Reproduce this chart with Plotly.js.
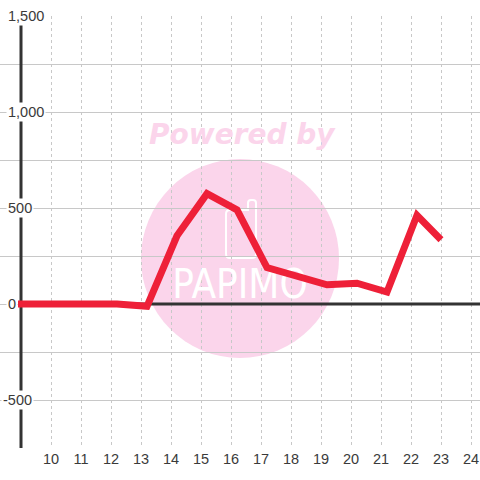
<!DOCTYPE html>
<html>
<head>
<meta charset="utf-8">
<script src="https://cdn.plot.ly/plotly-3.0.1.min.js"></script>
<style>html,body{margin:0;padding:0;background:#fff;}#chart{width:480px;height:480px;}</style>
</head>
<body>
<div id="chart"></div>
<script>
// ---- data ----
const hours  = [8.9, 9.2, 10.2, 11.2, 12.2, 13.2, 14.2, 15.2, 16.2, 17.2, 18.2, 19.2, 20.2, 21.2, 22.2, 23.0];
const values = [0,   0,   0,    0,    0,    -12,  355,  575,  490,  190,  145,  100,  108,  62,   462,  335];
const xTickVals = [10, 11, 12, 13, 14, 15, 16, 17, 18, 19, 20, 21, 22, 23, 24];
const xTickText = ['10','11','12','13','14','15','16','17','18','19','20','21','22','23','24'];
const yGridVals = [-750, -500, -250, 0, 250, 500, 750, 1000, 1250, 1500];
const yLabelVals = [1500, 1000, 500, 0, -500];
const yLabelText = ['1,500', '1,000', '500', '0', '-500'];
const watermarkTop = 'Powered by';
const watermarkLogo = 'PAPIMO';

// ---- layout geometry ----
const W = 480, H = 480, mT = 16, mB = 32;
const xRange = [8.3, 24.3];
const yRange = [-750, 1500];
const plotH = H - mT - mB;
const pxToPaperX = px => px / W;
const pxToPaperY = py => (H - mB - py) / plotH;
const pxToX = px => xRange[0] + (px / W) * (xRange[1] - xRange[0]);
const pxToY = py => yRange[0] + ((H - mB - py) / plotH) * (yRange[1] - yRange[0]);

const axisColor = '#333333';
const pink = '#fbd5eb';
const tickFont = {family: 'Liberation Sans, Arial, sans-serif', size: 14.5, color: '#3a3a3a'};

// phone icon path (paper coords)
function P(x, y) { return pxToPaperX(x).toFixed(5) + ',' + pxToPaperY(y).toFixed(5); }
const phonePath = 'M' + P(226,214) + ' Q' + P(226,210) + ' ' + P(230,210) +
  ' L' + P(248,210) + ' L' + P(248,203) + ' Q' + P(248,200) + ' ' + P(251,200) +
  ' L' + P(253,200) + ' Q' + P(256,200) + ' ' + P(256,203) +
  ' L' + P(256,254) + ' Q' + P(256,258) + ' ' + P(252,258) +
  ' L' + P(230,258) + ' Q' + P(226,258) + ' ' + P(226,254) + ' Z';

const shapes = [
  {type: 'circle', xref: 'paper', yref: 'paper', layer: 'below',
   x0: pxToPaperX(141), x1: pxToPaperX(339), y0: pxToPaperY(358), y1: pxToPaperY(159),
   fillcolor: pink, line: {width: 0}},
  {type: 'path', xref: 'paper', yref: 'paper', layer: 'below', path: phonePath,
   line: {color: '#ffffff', width: 2}},
  // zero line
  {type: 'line', xref: 'x', yref: 'y', layer: 'between', x0: 9, x1: xRange[1], y0: 0, y1: 0,
   line: {color: axisColor, width: 3}},
  // y axis line
  {type: 'line', xref: 'x', yref: 'y', layer: 'between', x0: 9, x1: 9, y0: yRange[0], y1: pxToY(24),
   line: {color: axisColor, width: 3}}
];

const annotations = yLabelVals.map((v, i) => ({
  xref: 'paper', yref: 'y', x: pxToPaperX(v < 0 ? 1 : 6), y: v,
  xanchor: 'left', yanchor: 'middle', showarrow: false,
  text: yLabelText[i], font: tickFont, bgcolor: '#ffffff', borderpad: 1
}));
annotations.push({
  xref: 'paper', yref: 'paper', x: pxToPaperX(242), y: pxToPaperY(134),
  xanchor: 'center', yanchor: 'middle', showarrow: false, text: watermarkTop,
  font: {family: 'DejaVu Sans, sans-serif', size: 28, weight: 'bold', style: 'italic', color: pink}
});

const traces = [
  {x: [pxToX(240)], y: [pxToY(288)], mode: 'text', text: [watermarkLogo],
   textfont: {family: 'Liberation Sans Narrow, DejaVu Sans Condensed, sans-serif', size: 40, weight: 300, color: '#ffffff'},
   hoverinfo: 'skip', showlegend: false, cliponaxis: false},
  {x: hours, y: values, mode: 'lines', line: {color: '#ee2038', width: 7},
   showlegend: false, hoverinfo: 'x+y'}
];

const layout = {
  width: W, height: H,
  margin: {l: 0, r: 0, t: mT, b: mB, pad: 0},
  paper_bgcolor: '#ffffff', plot_bgcolor: '#ffffff',
  showlegend: false,
  xaxis: {range: xRange, tickmode: 'array', tickvals: xTickVals, ticktext: xTickText,
          showgrid: true, gridcolor: '#c8c8c8', gridwidth: 1, griddash: '3px,3px',
          zeroline: false, showline: false, ticks: '', tickfont: tickFont, fixedrange: true},
  yaxis: {range: yRange, tickmode: 'array', tickvals: yGridVals, showticklabels: false,
          showgrid: true, gridcolor: '#c8c8c8', gridwidth: 1, zeroline: false, showline: false,
          ticks: '', fixedrange: true},
  shapes: shapes,
  annotations: annotations
};

Plotly.newPlot('chart', traces, layout, {displayModeBar: false, staticPlot: true});
</script>
</body>
</html>
